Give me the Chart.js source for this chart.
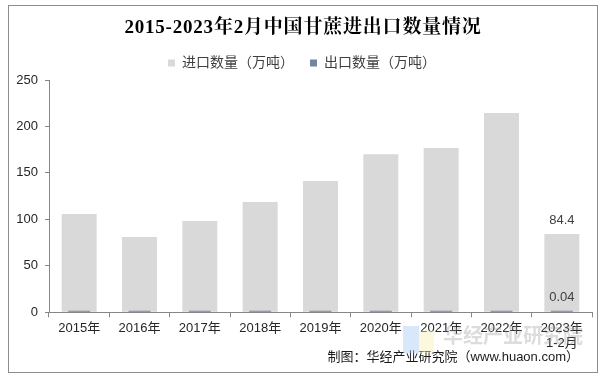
<!DOCTYPE html>
<html>
<head>
<meta charset="utf-8">
<script src="https://cdn.jsdelivr.net/npm/chart.js@4/dist/chart.umd.min.js"></script>
<style>
  html, body { margin: 0; padding: 0; background: #ffffff; }
  #wrap { width: 604px; height: 380px; position: relative; }
</style>
</head>
<body>
<div id="wrap"><canvas id="c" width="604" height="380"></canvas></div>
<script>
const titleText = '2015-2023年2月中国甘蔗进出口数量情况';
const sourceText = '制图：华经产业研究院（www.huaon.com）';
const categories = ['2015年', '2016年', '2017年', '2018年', '2019年', '2020年', '2021年', '2022年', ['2023年', '1-2月']];
const importLabel = '进口数量（万吨）';
const exportLabel = '出口数量（万吨）';
const importValues = [105.7, 81.0, 98.2, 118.6, 141.2, 170.2, 176.7, 214.6, 84.4];
const exportValues = [1.0, 1.0, 1.0, 1.0, 1.0, 1.0, 1.0, 1.0, 0.04];
const yTicks = [0, 50, 100, 150, 200, 250];
const labeledIndex = 8;

const FONT = '"Liberation Sans", Arial, "Noto Sans CJK SC", sans-serif';

const framePlugin = {
  id: 'frame',
  afterDraw(chart) {
    const ctx = chart.ctx;
    ctx.save();
    // title
    ctx.font = 'bold 19px "Liberation Serif", "Noto Serif CJK SC", "Noto Sans CJK SC", serif';
    ctx.fillStyle = '#000000';
    ctx.textAlign = 'center';
    ctx.textBaseline = 'middle';
    try { ctx.letterSpacing = '0.8px'; } catch (e) {}
    ctx.fillText(titleText, 303, 28);
    try { ctx.letterSpacing = '0px'; } catch (e) {}
    // source
    ctx.font = '13px ' + FONT;
    ctx.fillStyle = '#1a1a1a';
    ctx.textAlign = 'right';
    ctx.fillText(sourceText, 579, 357);
    // faint watermark
    ctx.globalAlpha = 0.45;
    ctx.fillStyle = '#a9c9f5';
    ctx.fillRect(403, 326, 16, 27);
    ctx.fillStyle = '#f7efb5';
    ctx.fillRect(419, 331, 15, 22);
    ctx.globalAlpha = 0.35;
    ctx.fillStyle = '#9a9a9a';
    ctx.font = 'bold 20px "Noto Sans CJK SC", sans-serif';
    ctx.textAlign = 'left';
    ctx.fillText('华经产业研究院', 443, 335);
    ctx.globalAlpha = 1;
    // outer border
    ctx.strokeStyle = '#8c8c8c';
    ctx.lineWidth = 1;
    ctx.strokeRect(8.5, 5.5, 589, 367);
    ctx.restore();
  }
};

const labelPlugin = {
  id: 'valueLabels',
  afterDatasetsDraw(chart) {
    const ctx = chart.ctx;
    ctx.save();
    ctx.font = '13px ' + FONT;
    ctx.fillStyle = '#404040';
    ctx.textAlign = 'center';
    ctx.textBaseline = 'middle';
    chart.data.datasets.forEach((ds, di) => {
      const meta = chart.getDatasetMeta(di);
      const el = meta.data[labeledIndex];
      if (!el) return;
      const v = ds.data[labeledIndex];
      ctx.fillText(String(v), el.x, el.y - 13);
    });
    ctx.restore();
  }
};

new Chart(document.getElementById('c'), {
  type: 'bar',
  data: {
    labels: categories,
    datasets: [
      {
        label: importLabel,
        data: importValues,
        backgroundColor: '#d9d9d9',
        borderWidth: 0,
        grouped: false,
        categoryPercentage: 1,
        barPercentage: 0.58,
        order: 2
      },
      {
        label: exportLabel,
        data: exportValues,
        backgroundColor: '#7384a6',
        borderWidth: 0,
        grouped: false,
        categoryPercentage: 1,
        barPercentage: 0.365,
        minBarLength: 1.5,
        order: 1
      }
    ]
  },
  options: {
    responsive: false,
    animation: false,
    devicePixelRatio: 1,
    layout: { padding: { top: 40, left: 12, right: 12, bottom: 0 } },
    plugins: {
      title: { display: false },
      tooltip: { enabled: false },
      legend: {
        display: true,
        position: 'top',
        align: 'center',
        labels: {
          sort: (a, b) => a.datasetIndex - b.datasetIndex,
          boxWidth: 7,
          boxHeight: 7,
          padding: 16,
          color: '#404040',
          font: { family: FONT, size: 14 }
        }
      }
    },
    scales: {
      x: {
        offset: true,
        grid: {
          display: true,
          offset: true,
          drawOnChartArea: false,
          drawTicks: true,
          tickLength: 5,
          color: '#868686'
        },
        border: { display: true, color: '#868686', width: 1 },
        ticks: {
          color: '#262626',
          padding: 3,
          maxRotation: 0,
          autoSkip: false,
          font: { family: FONT, size: 13 }
        },
        afterFit(scale) { scale.height = 67.7; }
      },
      y: {
        min: 0,
        max: 250,
        afterBuildTicks(scale) { scale.ticks = yTicks.map(v => ({ value: v })); },
        grid: {
          display: true,
          drawOnChartArea: false,
          drawTicks: true,
          tickLength: 4,
          color: '#868686'
        },
        border: { display: true, color: '#868686', width: 1 },
        ticks: {
          color: '#262626',
          padding: 7,
          font: { family: FONT, size: 13 }
        },
        afterFit(scale) { scale.width = 37; }
      }
    }
  },
  plugins: [labelPlugin, framePlugin]
});
</script>
</body>
</html>
